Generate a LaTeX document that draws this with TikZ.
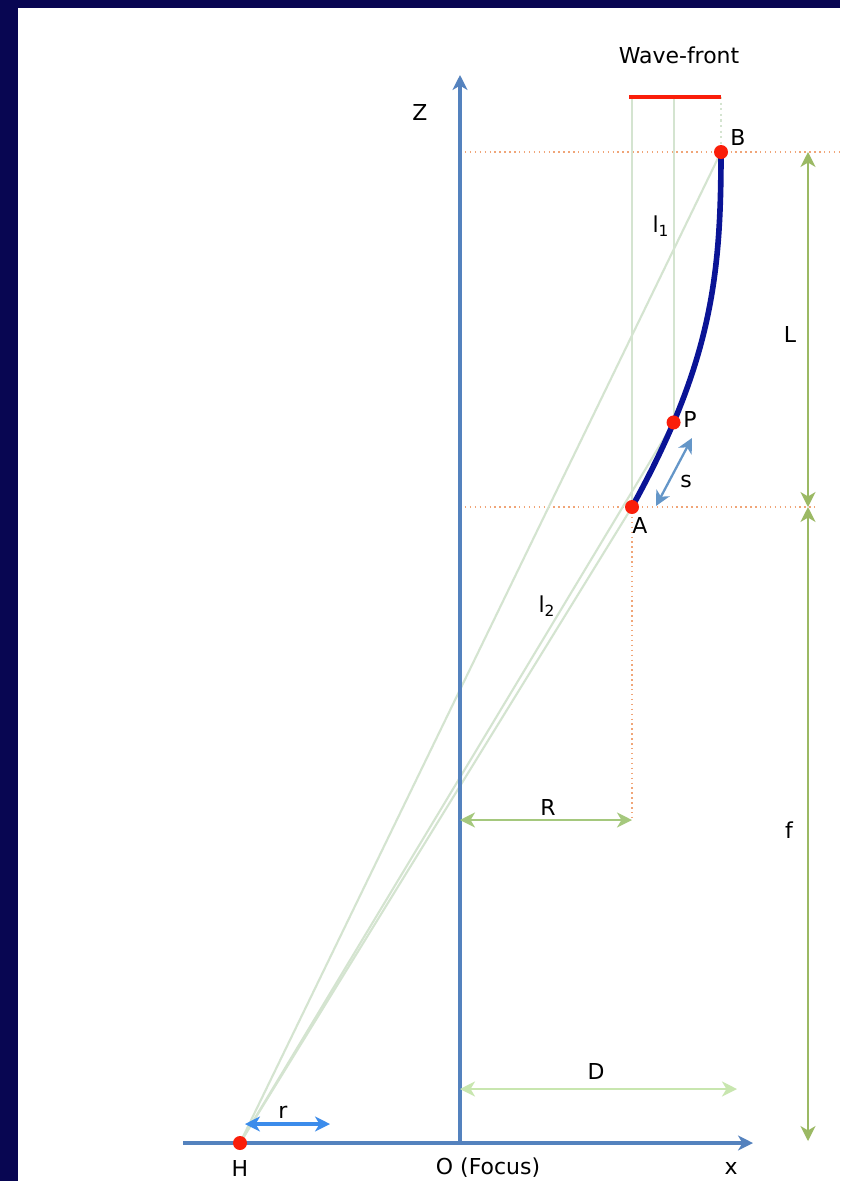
\documentclass[tikz,border=0pt]{standalone}
\usepackage{fontspec}
\setmainfont{DejaVu Sans}
\usepackage{tikz}
\usetikzlibrary{arrows, arrows.meta}
\usetikzlibrary{positioning}

\definecolor{navy}{RGB}{8,6,82}
\definecolor{axisblue}{RGB}{84,130,190}
\definecolor{raygreen}{RGB}{212,228,208}
\definecolor{guideorange}{RGB}{240,165,120}
\definecolor{dimgreen}{RGB}{155,185,100}
\definecolor{rgreen}{RGB}{165,200,125}
\definecolor{dgreen}{RGB}{200,230,175}
\definecolor{curveblue}{RGB}{10,20,150}
\definecolor{dotred}{RGB}{250,30,10}
\definecolor{rblue}{RGB}{60,140,235}
\definecolor{sblue}{RGB}{100,150,200}

\begin{document}
\begin{tikzpicture}[x=0.02cm, y=-0.02cm, >={Stealth[length=8.5pt, width=8.5pt, inset=2.5pt]}, font=\fontsize{12.5}{14}\selectfont]
	\tikzstyle{dot}=[circle, fill=dotred, draw=none, inner sep=0pt, minimum size=0.28cm]
	\tikzstyle{axis}=[->, draw=axisblue, line width=1.9pt]
	\tikzstyle{ray}=[draw=raygreen, line width=1.2pt]
	\tikzstyle{guide}=[draw=guideorange, dotted, line width=0.8pt]
	\tikzstyle{dim}=[<->, draw=dimgreen, line width=1.1pt]
	\tikzstyle{lbl}=[inner sep=1pt]
	
	% frame
	\fill[navy] (0,0) rectangle (840,1181);
	\fill[white] (18,8) rectangle (840,1181);
	\useasboundingbox (0,0) rectangle (840,1181);
	
	\coordinate (O) at (460,1143);
	\coordinate (H) at (240,1143);
	\coordinate (A) at (632,507);
	\coordinate (B) at (721,152);
	\coordinate (WF) at (629,97);
	\path (A) .. controls (712,362) and (721,275) .. (B) coordinate[pos=0.21] (P);
	
	% guides
	\draw[guide] (O |- B) -- (840,152);
	\draw[guide] (O |- A) -- (815,507);
	\draw[guide] (A) -- (632,820);
	
	% rays
	\draw[ray] (H) -- (A);
	\draw[ray] (H) -- (P);
	\draw[ray] (H) -- (B);
	\draw[ray] (A |- WF) -- (A);
	\draw[ray] (P |- WF) -- (P);
	\draw[ray, dotted] (B |- WF) -- (B);
	
	% axes
	\draw[axis] (O) -- (460,75);
	\draw[axis] (183,1143) -- (753,1143);
	
	% wave-front and mirror
	\draw[dotred, line width=2.4pt] (WF) -- (721,97);
	\draw[curveblue, line width=3.2pt] (A) .. controls (712,362) and (721,275) .. (B);
	
	% dimensions
	\draw[dim] (808,152) -- (808,507);
	\draw[dim] (808,507) -- (808,1141);
	\draw[dim, draw=rgreen, line width=1.6pt] (460,820) -- (632,820);
	\draw[dim, draw=dgreen, line width=1.6pt] (460,1089) -- (737,1089);
	\draw[<->, draw=rblue, line width=2.2pt] (245,1124) -- (330,1124);
	\draw[<->, draw=sblue, line width=1.3pt] (656,506) -- (692,438);
	
	\node[dot] (hdot) at (H) {};
	\node[dot] (adot) at (A) {};
	\node[dot] (pdot) at (P) {};
	\node[dot] (bdot) at (B) {};
	
	% labels
	\node[lbl] (wavefront) at (679,55) {Wave-front};
	\node[lbl] (zlab) at (420,112) {Z};
	\node[lbl] (blab) at (738,137) {B};
	\node[lbl] (l1lab) at (661,226) {l\textsubscript{1}};
	\node[lbl] (Llab) at (790,334) {L};
	\node[lbl] (plab) at (690,419) {P};
	\node[lbl] (slab) at (686,481) {s};
	\node[lbl] (alab) at (640,525) {A};
	\node[lbl] (l2lab) at (547,606) {l\textsubscript{2}};
	\node[lbl] (Rlab) at (548,807) {R};
	\node[lbl] (flab) at (789,830) {f};
	\node[lbl] (Dlab) at (596,1071) {D};
	\node[lbl] (rlab) at (283,1112) {r};
	\node[lbl] (hlab) at (240,1168) {H};
	\node[lbl] (olab) at (488,1168) {O (Focus)};
	\node[lbl] (xlab) at (731,1168) {x};
\end{tikzpicture}
\end{document}
